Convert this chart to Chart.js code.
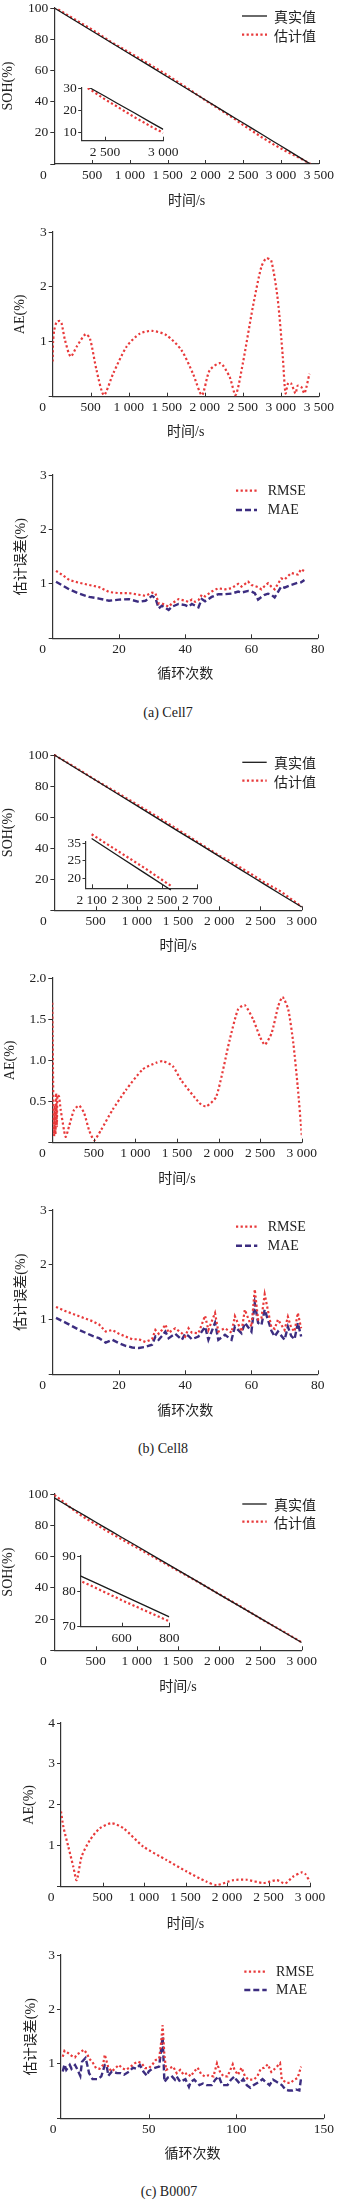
<!DOCTYPE html>
<html>
<head>
<meta charset="utf-8">
<script src="https://cdn.jsdelivr.net/npm/chart.js@4.4.1/dist/chart.umd.min.js"></script>
<style>
  body { margin: 0; background: #fff; width: 337px; height: 2200px; position: relative; overflow: hidden; }
  canvas { position: absolute; left: 0; }
  canvas.inset { z-index: 2; }
  .cap { position: absolute; transform: translateX(-50%); white-space: nowrap; font: 14px/16px "Liberation Serif", serif; color: #222; }
</style>
</head>
<body>
<canvas id="soh7"></canvas>
<canvas id="soh7in" class="inset"></canvas>
<canvas id="ae7"></canvas>
<canvas id="err7"></canvas>
<div class="cap" style="left:168px; top:705px">(a) Cell7</div>
<canvas id="soh8"></canvas>
<canvas id="soh8in" class="inset"></canvas>
<canvas id="ae8"></canvas>
<canvas id="err8"></canvas>
<div class="cap" style="left:163px; top:1441px">(b) Cell8</div>
<canvas id="sohB"></canvas>
<canvas id="sohBin" class="inset"></canvas>
<canvas id="aeB"></canvas>
<canvas id="errB"></canvas>
<div class="cap" style="left:169px; top:2184px">(c) B0007</div>

<script>
// ---------- Cell7 ----------
var t7 = [0, 250, 500, 750, 1000, 1250, 1500, 1750, 2000, 2250, 2400, 2500, 2600, 2750, 2900, 3000, 3100, 3250, 3390];
var soh7True = [100, 92.6, 85.3, 77.9, 70.5, 63.2, 55.8, 48.4, 41.0, 33.6, 29.2, 26.3, 23.3, 18.9, 14.4, 11.5, 8.6, 4.1, 0];
var soh7Est = [100.6, 93.3, 86.2, 78.3, 71.3, 64.2, 56.8, 49.0, 40.8, 33.1, 28.4, 24.9, 21.8, 17.0, 12.6, 9.9, 7.3, 3.8, 0];

var t7ae = [0, 5, 20, 52, 96, 118, 162, 236, 315, 433, 490, 577, 673, 795, 971, 1146, 1307, 1496, 1693, 1845, 1963, 2064, 2205, 2327, 2406, 2501, 2633, 2743, 2808, 2874, 2961, 3026, 3062, 3097, 3136, 3193, 3223, 3268, 3311, 3377];
var ae7 = [0.64, 1.0, 1.21, 1.36, 1.38, 1.33, 1.03, 0.73, 0.91, 1.14, 1.06, 0.48, 0.03, 0.42, 0.91, 1.15, 1.20, 1.12, 0.85, 0.42, 0.03, 0.48, 0.61, 0.36, 0.03, 0.61, 1.64, 2.36, 2.52, 2.48, 1.76, 0.73, 0.06, 0.25, 0.24, 0.06, 0.2, 0.18, 0.06, 0.42];

var cyc7 = [1, 3, 5, 8, 11, 14, 17, 20, 23, 26, 28, 30, 31, 32, 33, 35, 36, 38, 40, 41, 42, 43, 44, 45, 46, 48, 50, 52, 54, 56, 57, 59, 60, 61, 62, 63, 64, 65, 66, 67, 69, 70, 72, 74, 75, 76];
var rmse7 = [1.24, 1.16, 1.07, 1.02, 0.98, 0.94, 0.85, 0.83, 0.83, 0.80, 0.78, 0.84, 0.83, 0.64, 0.64, 0.58, 0.64, 0.72, 0.69, 0.67, 0.71, 0.67, 0.70, 0.80, 0.77, 0.86, 0.92, 0.90, 0.92, 1.00, 0.95, 1.04, 0.98, 0.96, 0.94, 0.90, 0.96, 1.01, 0.95, 0.90, 1.10, 1.08, 1.20, 1.17, 1.27, 1.23];
var mae7 = [1.04, 0.97, 0.90, 0.82, 0.76, 0.73, 0.69, 0.71, 0.72, 0.67, 0.69, 0.78, 0.74, 0.55, 0.60, 0.52, 0.58, 0.63, 0.61, 0.58, 0.63, 0.60, 0.57, 0.72, 0.68, 0.76, 0.81, 0.81, 0.82, 0.86, 0.84, 0.87, 0.86, 0.83, 0.71, 0.76, 0.80, 0.82, 0.80, 0.75, 0.95, 0.93, 0.98, 1.02, 1.03, 1.07];

// ---------- Cell8 ----------
var t8 = [0, 250, 500, 750, 1000, 1250, 1500, 1750, 2000, 2100, 2250, 2400, 2550, 2750, 3000, 3070];
var soh8True = [100, 91.8, 83.7, 75.5, 67.4, 59.2, 51.0, 42.9, 34.7, 31.4, 26.5, 21.6, 16.7, 10.2, 2.1, 0];
var soh8Est = [100, 92.2, 83.8, 76.1, 68.2, 60.2, 51.9, 43.5, 35.2, 32.6, 27.8, 23.0, 17.9, 12.0, 2.3, 0];

var t8ae = [0, 4, 8, 15, 22, 29, 38, 46, 55, 62, 81, 101, 141, 162, 202, 262, 322, 383, 443, 504, 584, 725, 886, 1087, 1249, 1329, 1449, 1549, 1772, 1852, 1973, 2134, 2235, 2315, 2415, 2496, 2557, 2638, 2718, 2770, 2838, 2899, 2952, 3004];
var ae8 = [1.70, 1.3, 0.9, 0.3, 0.08, 0.45, 0.1, 0.6, 0.2, 0.58, 0.56, 0.40, 0.15, 0.07, 0.20, 0.40, 0.45, 0.36, 0.15, 0.03, 0.15, 0.40, 0.64, 0.89, 0.97, 0.99, 0.93, 0.76, 0.48, 0.44, 0.56, 1.25, 1.62, 1.67, 1.50, 1.29, 1.19, 1.33, 1.66, 1.77, 1.62, 1.21, 0.68, 0.06];

var cyc8 = [1, 4, 8, 12, 14, 16, 18, 20, 22, 24, 26, 28, 30, 31, 32, 33, 34, 35, 37, 39, 40, 41, 42, 44, 46, 47, 49, 50, 52, 54, 55, 57, 58, 60, 61, 62, 63, 64, 66, 67, 68, 70, 71, 72, 73, 74, 75];
var rmse8 = [1.23, 1.15, 1.06, 0.97, 0.91, 0.78, 0.81, 0.74, 0.69, 0.64, 0.64, 0.59, 0.64, 0.81, 0.74, 0.81, 0.91, 0.76, 0.84, 0.75, 0.69, 0.84, 0.76, 0.75, 1.07, 0.81, 1.12, 0.78, 0.84, 0.76, 1.06, 0.78, 1.18, 0.87, 1.55, 1.00, 1.02, 1.46, 0.86, 0.83, 1.00, 0.81, 1.05, 0.85, 0.78, 1.12, 0.84];
var mae8 = [1.03, 0.94, 0.81, 0.70, 0.66, 0.58, 0.63, 0.57, 0.52, 0.49, 0.48, 0.50, 0.54, 0.69, 0.63, 0.70, 0.78, 0.66, 0.74, 0.63, 0.74, 0.70, 0.64, 0.69, 0.87, 0.63, 0.94, 0.63, 0.72, 0.63, 0.87, 0.75, 0.94, 0.78, 1.30, 0.94, 0.90, 1.18, 0.80, 0.69, 0.78, 0.63, 0.87, 0.70, 0.64, 0.94, 0.69];

// ---------- B0007 ----------
var tB = [0, 100, 200, 300, 400, 500, 600, 700, 800, 1000, 1250, 1500, 1750, 2000, 2250, 2500, 2750, 3000];
var sohBTrue = [97.5, 94.4, 91.3, 88.3, 85.2, 82.1, 79.0, 75.9, 72.8, 66.7, 59.0, 51.3, 43.6, 35.8, 28.1, 20.4, 12.7, 5.0];
var sohBEst = [99.4, 95.4, 91.1, 87.2, 83.8, 80.7, 77.5, 74.5, 71.5, 65.7, 58.3, 50.9, 43.5, 35.9, 28.3, 20.3, 12.9, 5.1];

var tBae = [0, 28, 88, 148, 189, 249, 349, 470, 611, 751, 992, 1273, 1514, 1755, 1876, 2076, 2237, 2437, 2598, 2699, 2799, 2900, 2940, 3000];
var aeB = [1.84, 1.47, 0.98, 0.49, 0.16, 0.74, 1.14, 1.43, 1.55, 1.43, 0.98, 0.65, 0.37, 0.12, 0.04, 0.16, 0.17, 0.09, 0.16, 0.08, 0.25, 0.35, 0.32, 0.12];

var cycBr = [1, 2, 4, 6, 8, 9, 11, 13, 15, 16, 18, 20, 22, 24, 25, 27, 29, 31, 33, 35, 37, 39, 42, 44, 46, 48, 50, 52, 54, 56, 57, 58, 59, 60, 62, 64, 66, 68, 70, 72, 74, 76, 78, 80, 82, 84, 87, 89, 91, 93, 95, 98, 99, 101, 103, 105, 107, 110, 112, 114, 116, 118, 120, 122, 125, 126, 129, 131, 133, 135, 137];
var rmseB = [1.13, 1.24, 1.20, 1.15, 1.12, 1.17, 1.21, 1.26, 1.18, 1.10, 1.03, 0.92, 0.91, 0.98, 1.17, 0.93, 0.86, 0.92, 0.98, 0.92, 0.89, 0.93, 1.01, 1.04, 1.01, 0.92, 0.92, 0.98, 1.07, 1.10, 1.35, 1.71, 1.16, 0.89, 0.92, 0.95, 0.83, 0.89, 0.80, 0.83, 0.77, 0.86, 0.93, 0.81, 0.77, 0.79, 0.77, 1.01, 0.83, 0.77, 0.77, 0.99, 0.89, 0.80, 0.93, 0.77, 0.71, 0.71, 0.77, 0.91, 0.93, 0.99, 0.85, 0.91, 1.01, 0.71, 0.65, 0.65, 0.71, 0.74, 0.95];
var cycBm = [1, 2, 3, 5, 6, 8, 9, 11, 12, 14, 15, 16, 18, 21, 23, 25, 26, 27, 29, 32, 34, 36, 39, 41, 43, 45, 47, 49, 50, 52, 54, 56, 57, 58, 59, 61, 63, 65, 66, 68, 71, 73, 74, 76, 79, 81, 83, 86, 88, 90, 92, 95, 97, 99, 100, 102, 104, 106, 108, 110, 113, 115, 116, 119, 121, 123, 126, 128, 130, 132, 134, 136, 137];
var maeB = [0.86, 0.99, 0.89, 0.98, 0.91, 0.98, 0.92, 0.78, 1.04, 1.11, 0.98, 0.83, 0.72, 0.72, 0.77, 0.98, 0.98, 0.78, 0.86, 0.83, 0.83, 0.80, 0.86, 0.93, 0.91, 0.98, 0.86, 0.78, 0.86, 0.91, 0.93, 0.95, 1.23, 1.50, 0.67, 0.75, 0.78, 0.71, 0.77, 0.67, 0.72, 0.58, 0.67, 0.71, 0.61, 0.64, 0.61, 0.61, 0.71, 0.77, 0.61, 0.61, 0.71, 0.77, 0.71, 0.64, 0.72, 0.61, 0.56, 0.61, 0.67, 0.72, 0.69, 0.61, 0.71, 0.67, 0.61, 0.53, 0.51, 0.51, 0.53, 0.51, 0.74];

// inset tick labels (Cell8 inset prints its top tick as 35)
var in8Ticks = [20, 25, 30];
var in8Labels = ['20', '25', '35'];

var AXIS = '#333', TXT = '#222';
var solidBlack = { borderColor: '#1a1a1a', borderWidth: 1.3, borderDash: [] };
var dotRed = { borderColor: '#e8393a', borderWidth: 2.2, borderDash: [2.2, 2.4] };
var dashNavy = { borderColor: '#3c2d80', borderWidth: 2.4, borderDash: [6, 3] };

Chart.defaults.font.family = '"Liberation Serif", "Noto Sans CJK SC", serif';
Chart.defaults.font.size = 13.5;
Chart.defaults.color = TXT;

function fmt(v) {
	return Math.abs(v) >= 1000 ? String(v).replace(/\B(?=(\d{3})+(?!\d))/g, ' ') : String(v);
}

function line(label, xs, ys, style, tension) {
	return Object.assign({
		label: label,
		data: xs.map((x, i) => ({ x: x, y: ys[i] })),
		pointRadius: 0,
		fill: false,
		tension: tension || 0
	}, style);
}

function within(xs, ys, lo, hi) {
	var a = [], b = [];
	xs.forEach((x, i) => { if (x >= lo && x <= hi) { a.push(x); b.push(ys[i]); } });
	return [a, b];
}

// x ticks drawn inside the plot
const innerTicks = {
	id: 'innerTicks',
	afterDraw(chart) {
		const xs = chart.scales.x, a = chart.chartArea, ctx = chart.ctx;
		ctx.save();
		ctx.strokeStyle = AXIS;
		ctx.lineWidth = 1;
		xs.ticks.forEach(t => {
			if (t.value <= xs.min) return;
			const px = Math.round(xs.getPixelForValue(t.value)) + 0.5;
			ctx.beginPath();
			ctx.moveTo(px, a.bottom);
			ctx.lineTo(px, a.bottom - 4);
			ctx.stroke();
		});
		ctx.restore();
	}
};

// shared "0" at the corner
const originZero = {
	id: 'originZero',
	afterDraw(chart, args, o) {
		if (o.dx === undefined) return;
		const xs = chart.scales.x, ctx = chart.ctx;
		const items = xs.getLabelItems();
		const it = items[items.length - 1];
		ctx.save();
		ctx.font = it.font.string;
		ctx.fillStyle = TXT;
		ctx.textAlign = 'center';
		ctx.textBaseline = it.options.textBaseline;
		ctx.fillText('0', chart.chartArea.left + o.dx, it.options.translation[1] + it.textOffset);
		ctx.restore();
	}
};

// legend inside the plot
const keyBox = {
	id: 'keyBox',
	afterDraw(chart, args, o) {
		if (!o.ys) return;
		const ctx = chart.ctx;
		chart.data.datasets.forEach((ds, i) => {
			const y = o.ys[i] - o.offTop;
			ctx.save();
			ctx.strokeStyle = ds.borderColor;
			ctx.lineWidth = ds.borderWidth;
			ctx.setLineDash(ds.borderDash || []);
			ctx.beginPath();
			ctx.moveTo(o.x1, y);
			ctx.lineTo(o.x2, y);
			ctx.stroke();
			ctx.setLineDash([]);
			ctx.fillStyle = TXT;
			ctx.font = o.font;
			ctx.textAlign = 'left';
			ctx.textBaseline = 'middle';
			ctx.fillText(ds.label, o.tx, y + 0.5);
			ctx.restore();
		});
	}
};

function build(id, o) {
	var cTop = Math.round(o.top) - 20;
	var cBot = o.titleY ? Math.round(o.titleY + 8.4) : Math.round(o.bottom + 22);
	var cH = cBot - cTop;
	var cv = document.getElementById(id);
	cv.width = 337;
	cv.height = cH;
	cv.style.top = cTop + 'px';
	var xH = cH - (o.bottom - cTop);
	var inset = !o.titleY;

	var sx = {
		type: 'linear', min: o.x.min, max: o.x.max,
		afterFit: s => { s.height = xH; },
		border: { color: AXIS, width: 1.2 },
		grid: { display: false, drawTicks: false, tickLength: 0 },
		ticks: {
			stepSize: o.x.step, padding: inset ? 4 : 3, maxRotation: 0, autoSkip: false,
			callback: v => (!inset && v === 0) ? '' : fmt(v)
		}
	};
	if (o.x.list) sx.afterBuildTicks = s => { s.ticks = o.x.list.map(v => ({ value: v })); };
	if (o.xTitle) sx.title = { display: true, text: o.xTitle, font: { size: 14 }, padding: 0 };

	var sy = {
		type: 'linear', min: o.y.min, max: o.y.max,
		afterFit: s => { s.width = o.left; },
		border: { color: AXIS, width: 1.2 },
		grid: { display: true, drawOnChartArea: false, drawTicks: true, tickLength: inset ? 3.5 : 4, color: AXIS },
		ticks: {
			stepSize: o.y.step, padding: inset ? 1.5 : 2, autoSkip: false,
			callback: (v, i) => o.y.labels ? o.y.labels[i] : ((!inset && v === 0) ? '' : (o.y.fmt ? o.y.fmt(v) : fmt(v)))
		}
	};
	if (o.y.list) sy.afterBuildTicks = s => { s.ticks = o.y.list.map(v => ({ value: v })); };
	if (o.yTitle) sy.title = { display: true, text: o.yTitle, font: { size: 14 }, padding: { top: o.yTitleX - 8.4, bottom: 0 } };

	var key = o.key ? Object.assign({ offTop: cTop }, o.key) : {};

	o.datasets.forEach(d => { if (o.clip !== undefined) d.clip = o.clip; });

	return new Chart(cv, {
		type: 'line',
		data: { datasets: o.datasets },
		options: {
			responsive: false, animation: false, devicePixelRatio: 1, events: [],
			layout: { padding: { top: 20, right: 337 - o.right, bottom: 0, left: 0 } },
			plugins: {
				legend: { display: false }, tooltip: { enabled: false },
				keyBox: key,
				originZero: inset ? {} : { dx: o.zeroDx }
			},
			scales: { x: sx, y: sy }
		},
		plugins: [innerTicks, originZero, keyBox]
	});
}

var cjkKey = '14px "Noto Sans CJK SC", sans-serif';
var serifKey = '14px "Liberation Serif", serif';

// ---- (a) Cell7 ----
build('soh7', {
	left: 54.3, top: 7.5, right: 319, bottom: 164, titleY: 201.7, yTitleX: 8.7, zeroDx: -11,
	xTitle: '时间/s', yTitle: 'SOH(%)',
	x: { min: 0, max: 3500, step: 500 }, y: { min: 0, max: 100, step: 20 },
	key: { x1: 242, x2: 267, tx: 274, ys: [16, 34.7], font: cjkKey },
	datasets: [line('真实值', t7, soh7True, solidBlack), line('估计值', t7, soh7Est, dotRed)]
});
build('soh7in', {
	left: 81.7, top: 88.3, right: 163.3, bottom: 140.7,
	x: { min: 2300, max: 3000, list: [2500, 3000] }, y: { min: 6.4, max: 30, list: [10, 20, 30] },
	datasets: [line('真实值', t7, soh7True, solidBlack), line('估计值', t7, soh7Est, dotRed)]
});
build('ae7', {
	left: 52.7, top: 231.7, right: 319.5, bottom: 396.7, titleY: 433, yTitleX: 20, zeroDx: -10,
	xTitle: '时间/s', yTitle: 'AE(%)',
	x: { min: 0, max: 3500, step: 500 }, y: { min: 0, max: 3, step: 1 },
	datasets: [line('AE', t7ae, ae7, dotRed, 0.25)]
});
build('err7', {
	left: 52.7, top: 475, right: 317.7, bottom: 638.3, titleY: 675, yTitleX: 21, zeroDx: -10,
	xTitle: '循环次数', yTitle: '估计误差(%)',
	x: { min: 0, max: 80, step: 20 }, y: { min: 0, max: 3, step: 1 },
	key: { x1: 236, x2: 257, tx: 267.7, ys: [490.7, 510], font: serifKey },
	datasets: [line('RMSE', cyc7, rmse7, dotRed), line('MAE', cyc7, mae7, dashNavy)]
});

// ---- (b) Cell8 ----
build('soh8', {
	left: 54.4, top: 755, right: 301.7, bottom: 910.3, titleY: 946.7, yTitleX: 8.7, zeroDx: -11, clip: false,
	xTitle: '时间/s', yTitle: 'SOH(%)',
	x: { min: 0, max: 3000, step: 500 }, y: { min: 0, max: 100, step: 20 },
	key: { x1: 242.3, x2: 266.7, tx: 274, ys: [762.3, 780.7], font: cjkKey },
	datasets: [line('真实值', t8, soh8True, solidBlack), line('估计值', t8, soh8Est, dotRed)]
});
var in8T = within(t8, soh8True, 2090, 2560), in8E = within(t8, soh8Est, 2090, 2560);
build('soh8in', {
	left: 86, top: 841.7, right: 197.3, bottom: 888.3, clip: false,
	x: { min: 2068, max: 2700, list: [2100, 2300, 2500, 2700] },
	y: { min: 17.2, max: 30.4, list: in8Ticks, labels: in8Labels },
	datasets: [line('真实值', in8T[0], in8T[1], solidBlack), line('估计值', in8E[0], in8E[1], dotRed)]
});
build('ae8', {
	left: 52.3, top: 978.3, right: 301.7, bottom: 1142.7, titleY: 1180, yTitleX: 10.5, zeroDx: -10,
	xTitle: '时间/s', yTitle: 'AE(%)',
	x: { min: 0, max: 3000, step: 500 }, y: { min: 0, max: 2, step: 0.5, fmt: v => v.toFixed(1) },
	datasets: [line('AE', t8ae, ae8, dotRed, 0.2)]
});
build('err8', {
	left: 52.7, top: 1210, right: 317.7, bottom: 1374.3, titleY: 1411.7, yTitleX: 21.5, zeroDx: -10,
	xTitle: '循环次数', yTitle: '估计误差(%)',
	x: { min: 0, max: 80, step: 20 }, y: { min: 0, max: 3, step: 1 },
	key: { x1: 236, x2: 257.3, tx: 267.7, ys: [1226.7, 1245.7], font: serifKey },
	datasets: [line('RMSE', cyc8, rmse8, dotRed), line('MAE', cyc8, mae8, dashNavy)]
});

// ---- (c) B0007 ----
build('sohB', {
	left: 54.3, top: 1494.3, right: 301.7, bottom: 1650.3, titleY: 1687.3, yTitleX: 8.7, zeroDx: -11,
	xTitle: '时间/s', yTitle: 'SOH(%)',
	x: { min: 0, max: 3000, step: 500 }, y: { min: 0, max: 100, step: 20 },
	key: { x1: 242.3, x2: 266.7, tx: 274, ys: [1504, 1521.7], font: cjkKey },
	datasets: [line('真实值', tB, sohBTrue, solidBlack), line('估计值', tB, sohBEst, dotRed)]
});
build('sohBin', {
	left: 80.7, top: 1556, right: 169.3, bottom: 1626.7,
	x: { min: 428, max: 800, list: [600, 800] }, y: { min: 70, max: 90, list: [70, 80, 90] },
	datasets: [line('真实值', tB, sohBTrue, solidBlack), line('估计值', tB, sohBEst, dotRed)]
});
build('aeB', {
	left: 61, top: 1723.3, right: 310, bottom: 1886.7, titleY: 1925, yTitleX: 29, zeroDx: -10,
	xTitle: '时间/s', yTitle: 'AE(%)',
	x: { min: 0, max: 3000, step: 500 }, y: { min: 0, max: 4, step: 1 },
	datasets: [line('AE', tBae, aeB, dotRed, 0.25)]
});
build('errB', {
	left: 61, top: 1955, right: 326, bottom: 2118.3, titleY: 2155, yTitleX: 31, zeroDx: -8,
	xTitle: '循环次数', yTitle: '估计误差(%)',
	x: { min: 0, max: 150, step: 50 }, y: { min: 0, max: 3, step: 1 },
	key: { x1: 244.3, x2: 266.7, tx: 276, ys: [1971.7, 1990], font: serifKey },
	datasets: [line('RMSE', cycBr, rmseB, dotRed), line('MAE', cycBm, maeB, dashNavy)]
});
</script>
</body>
</html>
